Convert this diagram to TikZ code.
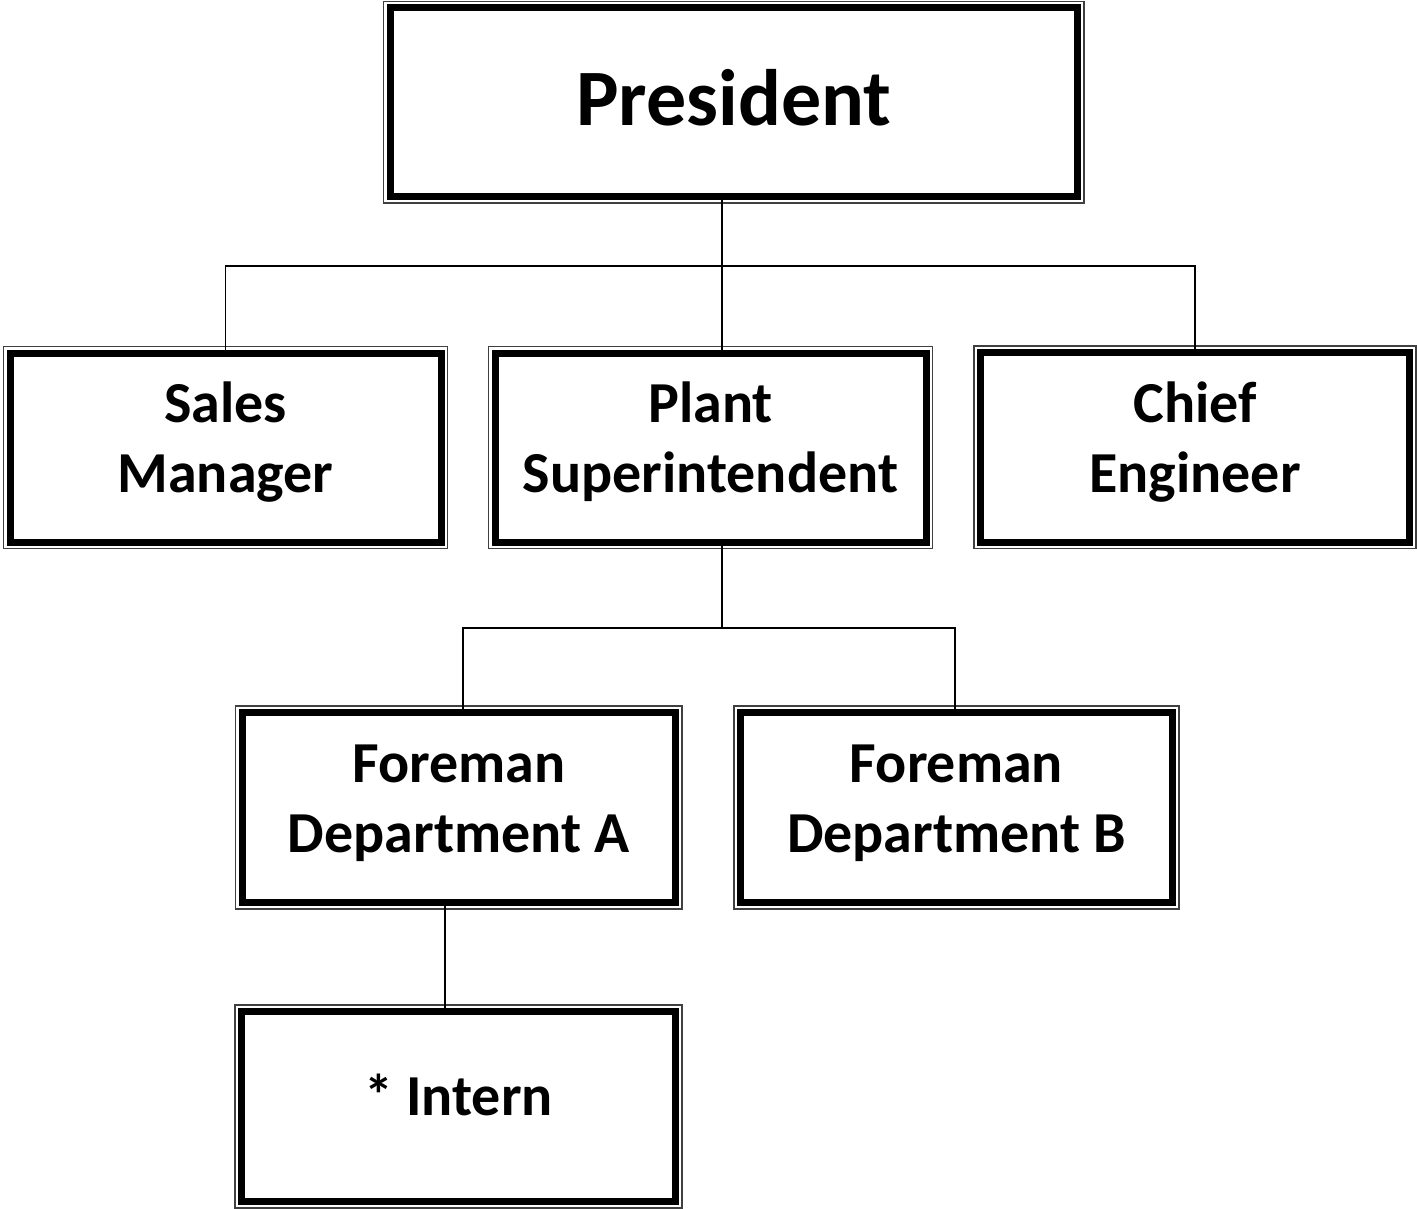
\documentclass[tikz,border=0pt]{standalone}
\usepackage{fontspec}
\setmainfont{Carlito}
\tikzset{
  inner/.style={draw=black, line width=7pt, inner sep=0pt, outer sep=0pt, align=center, font=\fontsize{58}{70}\selectfont\bfseries},
  outerline/.style={draw=black!75, line width=1.5pt},
  conn/.style={draw=black, line width=1.5pt},
}
% #1 name, #2 x1, #3 y1, #4 x2, #5 y2 (outer thin line), #6 text depth, #7 text
\newcommand{\orgbox}[7]{%
  \draw[outerline] (#2,#3) rectangle (#4,#5);
  \node[inner, text depth=#6, minimum width={(#4-#2-13)*1pt}, minimum height={(#5-#3-13)*1pt}] (#1) at ({(#2+#4)/2},{(#3+#5)/2}) {#7};
}
\begin{document}
\begin{tikzpicture}[x=1pt,y=-1pt]
\useasboundingbox (0,0) rectangle (1417,1209);
\fill[white] (0,0) rectangle (1417,1209);
\orgbox{pres}{383.5}{1.5}{1084}{203}{10pt}{\fontsize{80}{96}\selectfont President}
\orgbox{sales}{3.5}{346.5}{447.5}{548.5}{20pt}{Sales\\Manager}
\orgbox{plant}{488.5}{346.5}{932.5}{548.5}{20pt}{Plant\\Superintendent}
\orgbox{chief}{974}{346}{1416}{548.5}{20pt}{Chief\\Engineer}
\orgbox{fa}{235.5}{706}{682}{909}{18pt}{Foreman\\Department A}
\orgbox{fb}{734}{706}{1179}{909}{18pt}{Foreman\\Department B}
\orgbox{intern}{235}{1005}{682}{1208}{24pt}{* Intern}
\coordinate (j1) at (722,266);
\coordinate (j2) at (722,628);
\coordinate (xa) at (463,628);
\coordinate (xb) at (955,628);
\coordinate (xi) at (445,1000);
\draw[conn] (pres.south -| j1) -- (j1);
\draw[conn] (j1) -- (plant.north -| j1);
\draw[conn] (j1) -| (sales.north);
\draw[conn] (j1) -| (chief.north);
\draw[conn] (plant.south -| j2) -- (j2);
\draw[conn] (j2) -- (xa) -- (fa.north -| xa);
\draw[conn] (j2) -- (xb) -- (fb.north -| xb);
\draw[conn] (fa.south -| xi) -- (intern.north -| xi);
\end{tikzpicture}
\end{document}
